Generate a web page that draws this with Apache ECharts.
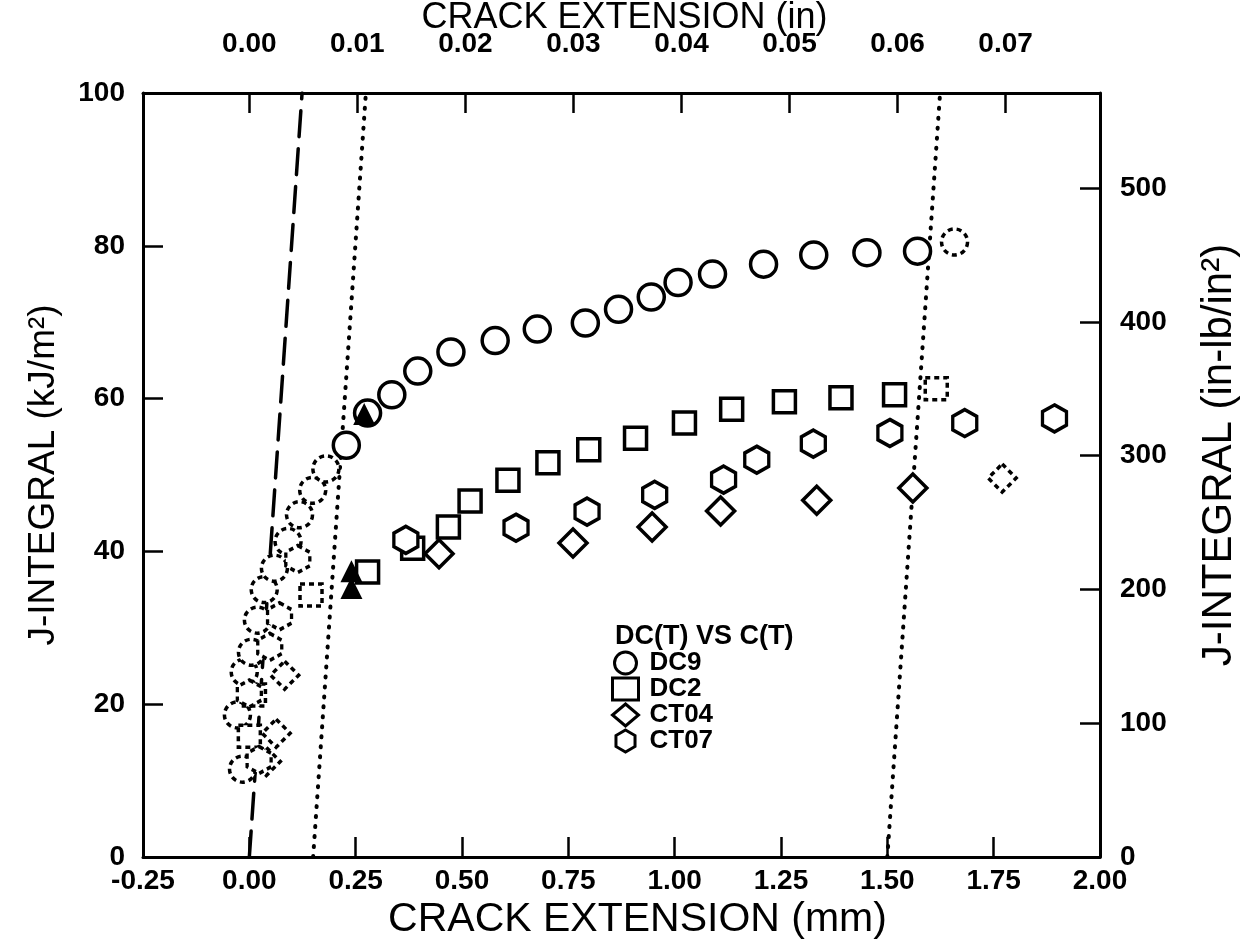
<!DOCTYPE html>
<html>
<head>
    <meta charset="utf-8" />
    <title>J-R curves DC(T) vs C(T)</title>
    <script src="https://cdn.jsdelivr.net/npm/echarts@6/dist/echarts.min.js"></script>
</head>
<body style="margin:0;background:#fff;">
    <div id="main" style="width:1250px;height:945px;"></div>
    <script type="text/javascript">
        // crack extension (mm), J (kJ/m2)
        var dc9 = [[0.228, 53.9], [0.278, 58.1], [0.335, 60.5], [0.396, 63.6], [0.474, 66.1], [0.578, 67.6],
            [0.677, 69.1], [0.790, 69.9], [0.868, 71.7], [0.945, 73.3], [1.008, 75.2], [1.089, 76.3],
            [1.209, 77.6], [1.327, 78.8], [1.452, 79.1], [1.571, 79.3]]
        var dc9Excl = [[-0.016, 11.5], [-0.028, 18.6], [-0.012, 24.2], [0.005, 26.8], [0.019, 31.0], [0.035, 35.0],
            [0.059, 37.8], [0.091, 41.3], [0.118, 44.8], [0.149, 48.0], [0.180, 50.8], [1.658, 80.5]]
        var dc2 = [[0.278, 37.3], [0.384, 40.4], [0.468, 43.2], [0.519, 46.6], [0.608, 49.3], [0.702, 51.6],
            [0.798, 53.3], [0.908, 54.8], [1.023, 56.8], [1.134, 58.6], [1.258, 59.6], [1.391, 60.1], [1.517, 60.5]]
        var dc2Excl = [[0.000, 15.8], [0.012, 21.2], [0.145, 34.3], [1.615, 61.3]]
        var ct04 = [[0.446, 39.7], [0.761, 41.1], [0.947, 43.2], [1.108, 45.3], [1.334, 46.7], [1.560, 48.3]]
        var ct04Excl = [[0.040, 12.5], [0.063, 16.2], [0.083, 23.8], [1.770, 49.6]]
        var ct07 = [[0.368, 41.5], [0.627, 43.1], [0.794, 45.2], [0.953, 47.4], [1.115, 49.4], [1.193, 52.0],
            [1.326, 54.1], [1.506, 55.5], [1.682, 56.8], [1.893, 57.4]]
        var ct07Excl = [[0.023, 12.7], [0.000, 21.4], [0.048, 27.5], [0.071, 31.5], [0.114, 39.0]]
        var jic = [[0.270, 58.0], [0.240, 37.4], [0.240, 35.2]]

        // blunting line and exclusion lines
        var bluntLine = [[0, 0], [0.124, 100]]
        var exclLine1 = [[0.15, 0], [0.274, 100]]
        var exclLine2 = [[1.50, 0], [1.624, 100]]

        // secondary axes
        var topTicksIn = [0.00, 0.01, 0.02, 0.03, 0.04, 0.05, 0.06, 0.07]
        var rightTicks = [0, 100, 200, 300, 400, 500]
        var MM_PER_IN = 25.4
        var KJ_PER_INLB = 0.17513

        var hexPath = 'path://M0,-10 L8.66,-5 L8.66,5 L0,10 L-8.66,5 L-8.66,-5 Z'
        var FONT = 'Liberation Sans'

        var myChart = echarts.init(document.getElementById('main'))

        function markStyle(dashed) {
            return {
                color: '#fff',
                borderColor: '#000',
                borderWidth: 3.5,
                borderType: dashed ? [5, 4] : 'solid',
                opacity: 1
            }
        }
        function scat(name, data, symbol, size, dashed) {
            return {
                name: name, type: 'scatter', data: data, symbol: symbol, symbolSize: size,
                itemStyle: markStyle(dashed), z: 3, silent: true, animation: false
            }
        }
        function refLine(data, type, width) {
            return {
                type: 'line', data: data, symbol: 'none', silent: true, animation: false, z: 2,
                lineStyle: { color: '#000', width: width, type: type, cap: 'round' }
            }
        }

        var labelStyle = { color: '#000', fontFamily: FONT, fontWeight: 'bold', fontSize: 28 }
        function nameStyle(size, pad) {
            return { color: '#000', fontFamily: FONT, fontSize: size, padding: pad || 0 }
        }
        var lineStyle = { color: '#000', width: 3 }
        var tickStyle = { color: '#000', width: 2.5 }

        option = {
            backgroundColor: '#fff',
            animation: false,
            grid: { left: 143, right: 150, top: 93, bottom: 88, outerBoundsMode: 'none', containLabel: false },
            title: {
                text: 'DC(T) VS C(T)', left: 610, top: 618,
                textStyle: { color: '#000', fontFamily: FONT, fontWeight: 'bold', fontSize: 27 }
            },
            legend: {
                data: ['DC9', 'DC2', 'CT04', 'CT07'],
                orient: 'vertical', left: 606, top: 645,
                itemWidth: 26, itemHeight: 22, itemGap: 0,
                itemStyle: { borderWidth: 3 },
                textStyle: {
                    color: '#000', fontFamily: FONT, fontWeight: 'bold', fontSize: 26,
                    padding: [0, 0, 0, 6]
                }
            },
            xAxis: [
                {
                    type: 'value', position: 'bottom', min: -0.25, max: 2.0, interval: 0.25,
                    name: 'CRACK EXTENSION (mm)', nameLocation: 'middle', nameGap: 42, nameMoveOverlap: false,
                    nameTextStyle: nameStyle(41, [0, 0, 0, 32]),
                    axisLine: { show: true, onZero: false, lineStyle: lineStyle },
                    axisTick: { inside: true, length: 20, lineStyle: tickStyle },
                    axisLabel: { margin: 10, formatter: function (v) { return v.toFixed(2) }, ...labelStyle },
                    splitLine: { show: false }
                },
                {
                    type: 'value', position: 'top', min: -0.25, max: 2.0,
                    name: 'CRACK EXTENSION (in)', nameLocation: 'middle', nameGap: 57, nameMoveOverlap: false,
                    nameTextStyle: nameStyle(36, [0, 0, 0, 6]),
                    axisLine: { show: true, onZero: false, lineStyle: lineStyle },
                    axisTick: {
                        inside: true, length: 20, lineStyle: tickStyle,
                        customValues: topTicksIn.map(function (v) { return v * MM_PER_IN })
                    },
                    axisLabel: {
                        margin: 35, ...labelStyle,
                        customValues: topTicksIn.map(function (v) { return v * MM_PER_IN }),
                        formatter: function (v) { return (v / MM_PER_IN).toFixed(2) }
                    },
                    splitLine: { show: false }
                }
            ],
            yAxis: [
                {
                    type: 'value', position: 'left', min: 0, max: 100, interval: 20,
                    name: 'J-INTEGRAL (kJ/m²)', nameLocation: 'middle', nameGap: 81, nameRotate: 90,
                    nameMoveOverlap: false,
                    nameTextStyle: nameStyle(37),
                    axisLine: { show: true, onZero: false, lineStyle: lineStyle },
                    axisTick: { inside: true, length: 20, lineStyle: tickStyle },
                    axisLabel: { margin: 18, ...labelStyle },
                    splitLine: { show: false }
                },
                {
                    type: 'value', position: 'right', min: 0, max: 100,
                    name: 'J-INTEGRAL (in-lb/in²)', nameLocation: 'middle', nameGap: 98, nameRotate: 90,
                    nameMoveOverlap: false,
                    nameTextStyle: nameStyle(42, [0, 0, 0, 40]),
                    axisLine: { show: true, onZero: false, lineStyle: lineStyle },
                    axisTick: {
                        inside: true, length: 20, lineStyle: tickStyle,
                        customValues: rightTicks.map(function (v) { return v * KJ_PER_INLB })
                    },
                    axisLabel: {
                        margin: 20, ...labelStyle,
                        customValues: rightTicks.map(function (v) { return v * KJ_PER_INLB }),
                        formatter: function (v) { return String(Math.round(v / KJ_PER_INLB)) }
                    },
                    splitLine: { show: false }
                }
            ],
            series: [
                refLine(bluntLine, [26, 12], 3.5),
                refLine(exclLine1, [1, 9], 4),
                refLine(exclLine2, [1, 9], 4),
                scat('DC9', dc9, 'circle', 26, false),
                scat('DC9', dc9Excl, 'circle', 26, true),
                scat('DC2', dc2, 'rect', 22, false),
                scat('DC2', dc2Excl, 'rect', 22, true),
                scat('CT04', ct04, 'diamond', 28, false),
                scat('CT04', ct04Excl, 'diamond', 28, true),
                scat('CT07', ct07, hexPath, [24, 27], false),
                scat('CT07', ct07Excl, hexPath, [24, 27], true),
                {
                    type: 'scatter', data: jic, symbol: 'triangle', symbolSize: 22, silent: true, z: 4,
                    itemStyle: { color: '#000', opacity: 1 }
                }
            ]
        }
        myChart.setOption(option)
    </script>
</body>
</html>
